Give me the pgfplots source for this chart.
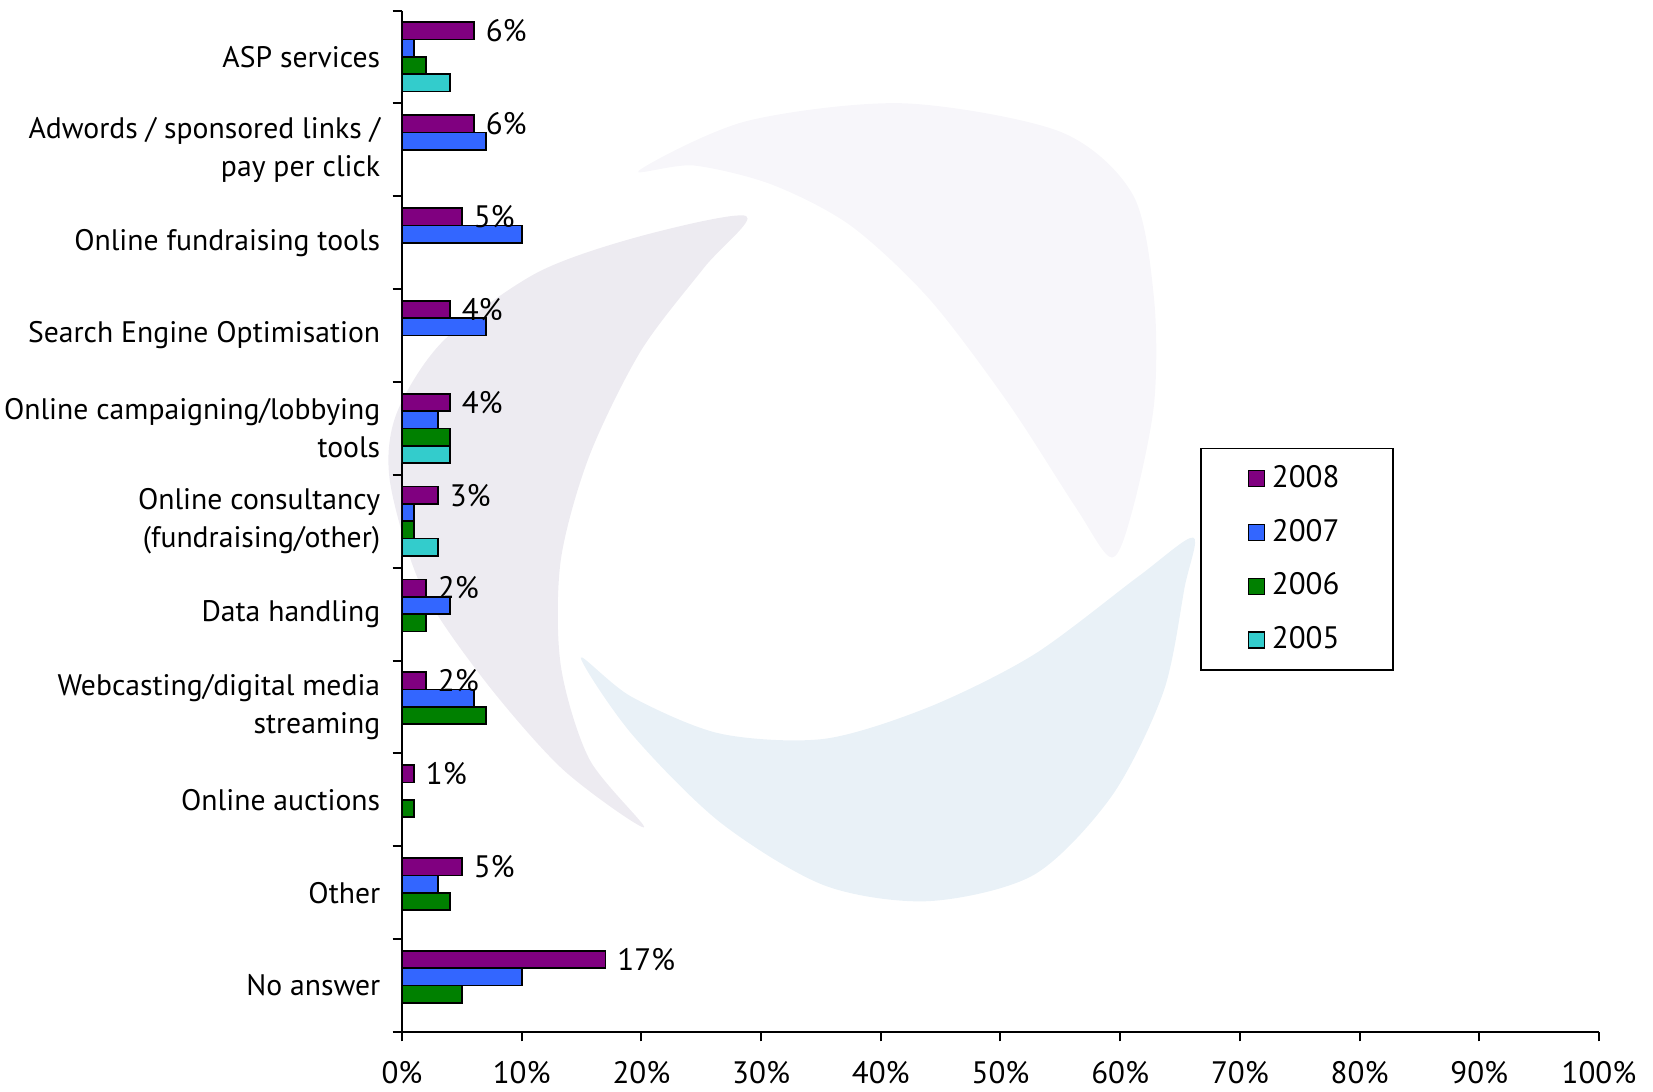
\documentclass[border=0pt]{standalone}
\usepackage{fontspec}
\setmainfont{PT Sans}
\usepackage{pgfplots}
\pgfplotsset{compat=1.18}
\definecolor{c08}{RGB}{128,0,128}
\definecolor{c07}{RGB}{51,102,255}
\definecolor{c06}{RGB}{0,128,0}
\definecolor{c05}{RGB}{51,204,204}
\definecolor{wmA}{RGB}{247,246,250}
\definecolor{wmL}{RGB}{237,235,241}
\definecolor{wmB}{RGB}{233,241,247}
\begin{document}
\begin{tikzpicture}[font=\fontsize{8.9}{11.4}\selectfont]
\path[use as bounding box] (-120.6pt,-17.7pt) rectangle (375.3pt,309.6pt);
% faint background logo
\begin{scope}[shift={(-120.6pt,309.6pt)}, x=0.3162pt, y=-0.3162pt]
\fill[wmA] plot[smooth cycle, tension=0.5] coordinates {(606,162) (708,115) (857,98) (1006,125) (1075,185) (1095,284) (1095,383) (1075,482) (1055,529) (1021,482) (957,383) (882,284) (807,214) (732,175) (658,157)};
\fill[wmL] plot[smooth cycle, tension=0.5] coordinates {(708,205) (608,224) (509,259) (420,324) (376,393) (370,457) (400,557) (460,646) (534,730) (611,785) (559,720) (532,631) (532,532) (559,433) (608,333) (668,254)};
\fill[wmB] plot[smooth cycle, tension=0.5] coordinates {(1132,510) (1124,557) (1104,656) (1055,755) (981,830) (881,855) (782,840) (683,780) (599,696) (551,624) (599,661) (683,696) (782,701) (881,671) (981,621) (1080,547)};
\end{scope}
\begin{axis}[
  at={(0,0)}, anchor=south west,
  scale only axis, width=359.1pt, height=306.45pt,
  xbar, bar width=5.2pt,
  xmin=0, xmax=100, xtick={0,10,...,100},
  xticklabel={\pgfmathprintnumber{\tick}\%},
  /pgf/number format/assume math mode=true,
  xticklabel style={yshift=-2.5pt, font=\fontsize{9.3}{11}\selectfont},
  y dir=reverse, ymin=-0.5, ymax=10.5,
  ytick={-0.5,0.5,...,10.5}, yticklabels={},
  extra y ticks={0,1,2,3,4,5,6,7,8,9,10},
  extra y tick labels={{ASP services},{Adwords / sponsored links /\\pay per click},{Online fundraising tools},{Search Engine Optimisation},{Online campaigning/lobbying\\tools},{Online consultancy\\(fundraising/other)},{Data handling},{Webcasting/digital media\\streaming},{Online auctions},{Other},{No answer}},
  extra y tick style={major tick length=0pt, yticklabel style={align=right, xshift=-3pt}},
  axis x line*=bottom, axis y line*=left,
  axis line style={-, black, line width=0.6pt},
  tick align=outside, major tick length=2.8pt,
  tick style={black, line width=0.6pt},
  legend style={at={(0.667,0.572)}, anchor=north west, draw=black, line width=0.5pt,
    inner xsep=14pt, inner ysep=3pt, row sep=4pt, font=\fontsize{9.3}{11}\selectfont},
  legend cell align=left,
  legend image code/.code={\draw[#1, draw=black, line width=0.4pt] (0pt,-2.4pt) rectangle (4.8pt,2.4pt);},
  every axis plot/.append style={draw=black, line width=0.5pt},
]
\addplot[fill=c08, bar shift=7.8pt, nodes near coords={\pgfmathprintnumber{\pgfplotspointmeta}\%}, point meta=x, nodes near coords style={anchor=west, font=\fontsize{9.3}{11}\selectfont}] coordinates {(6,0) (6,1) (5,2) (4,3) (4,4) (3,5) (2,6) (2,7) (1,8) (5,9) (17,10)};
\addplot[fill=c07, bar shift=2.6pt] coordinates {(1,0) (7,1) (10,2) (7,3) (3,4) (1,5) (4,6) (6,7) (3,9) (10,10)};
\addplot[fill=c06, bar shift=-2.6pt] coordinates {(2,0) (4,4) (1,5) (2,6) (7,7) (1,8) (4,9) (5,10)};
\addplot[fill=c05, bar shift=-7.8pt] coordinates {(4,0) (4,4) (3,5)};
\legend{2008,2007,2006,2005}
\end{axis}
\end{tikzpicture}
\end{document}
